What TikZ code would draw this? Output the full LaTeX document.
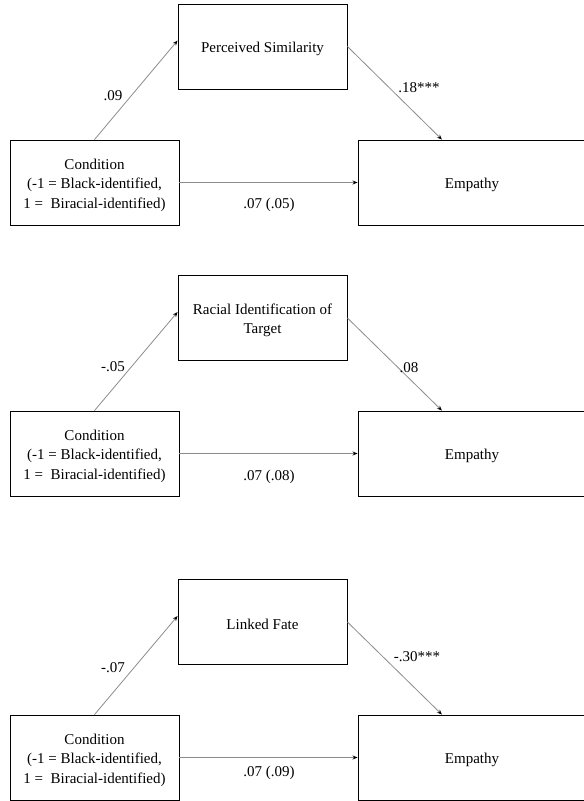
\documentclass[tikz,border=0pt]{standalone}
\usepackage{fontspec}
\setmainfont{Liberation Serif}
\usetikzlibrary{arrows.meta,calc}
\begin{document}
\begin{tikzpicture}[x=1pt,y=-1pt,
  box/.style={draw=black,line width=0.9pt,inner sep=0pt},
  inner/.style={align=center,inner sep=0pt,yshift=-2.5pt,
    font=\fontsize{15}{19.5}\selectfont},
  medbox/.style={box,minimum width=169pt,minimum height=85pt},
  condbox/.style={box,minimum width=169pt,minimum height=85pt},
  empbox/.style={box,minimum width=228pt,minimum height=85pt},
  path/.style={draw=black!45,line width=0.8pt,-{Stealth[length=5pt,width=4pt,black]}},
  lab/.style={inner sep=0pt,font=\fontsize{15}{18}\selectfont}]
\useasboundingbox (0,0) rectangle (584,801);
\clip (0,0) rectangle (584,801);

% Panel 1
\node[medbox,label={[inner]center:Perceived Similarity}] (M1) at (262.5,46.5) {};
\node[condbox,label={[inner]center:{Condition\\(-1 = Black-identified,\\1 =~~Biracial-identified)}}] (C1) at (94.5,182.5) {};
\node[empbox,label={[inner]center:Empathy}] (E1) at (472,182.5) {};
\draw[path] (C1.north) -- (M1.176);
\draw[path] (M1.east) -- (E1.125);
\draw[path] (C1.east) -- (E1.west);
\node[lab] (a1) at (113,96) {.09};
\node[lab] (b1) at (419,88) {.18***};
\node[lab] (c1) at (269,205) {.07 (.05)};

% Panel 2
\node[medbox,label={[inner]center:{Racial Identification of\\Target}}] (M2) at (262.5,318) {};
\node[condbox,label={[inner]center:{Condition\\(-1 = Black-identified,\\1 =~~Biracial-identified)}}] (C2) at (94.5,453.5) {};
\node[empbox,label={[inner]center:Empathy}] (E2) at (472,453.5) {};
\draw[path] (C2.north) -- (M2.176);
\draw[path] (M2.east) -- (E2.125);
\draw[path] (C2.east) -- (E2.west);
\node[lab] (a2) at (113,367) {-.05};
\node[lab] (b2) at (409,368) {.08};
\node[lab] (c2) at (269,477) {.07 (.08)};

% Panel 3
\node[medbox,label={[inner]center:Linked Fate}] (M3) at (262.5,622) {};
\node[condbox,label={[inner]center:{Condition\\(-1 = Black-identified,\\1 =~~Biracial-identified)}}] (C3) at (94.5,757.5) {};
\node[empbox,label={[inner]center:Empathy}] (E3) at (472,757.5) {};
\draw[path] (C3.north) -- (M3.176);
\draw[path] (M3.east) -- (E3.125);
\draw[path] (C3.east) -- (E3.west);
\node[lab] (a3) at (113,668) {-.07};
\node[lab] (b3) at (417,657) {-.30***};
\node[lab] (c3) at (269,773) {.07 (.09)};
\end{tikzpicture}
\end{document}
